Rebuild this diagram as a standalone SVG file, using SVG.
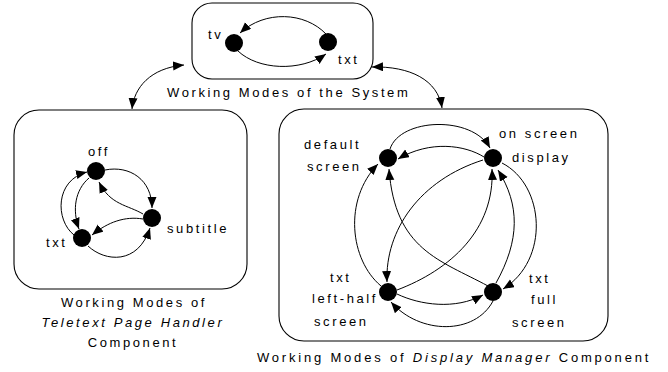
<svg xmlns="http://www.w3.org/2000/svg" width="668" height="372" viewBox="0 0 668 372">
  <defs>
    <marker id="arrow" markerUnits="userSpaceOnUse" markerWidth="12" markerHeight="10" refX="11" refY="4.5" orient="auto-start-reverse">
      <path d="M0,0 L11,4.5 L0,9 z" fill="#000"/>
    </marker>
    <style>
      .box { fill: #fff; stroke: #000; stroke-width: 1.1; }
      .node { fill: #000; }
      .edge { fill: none; stroke: #000; stroke-width: 1; marker-end: url(#arrow); }
      .both { marker-start: url(#arrow); }
      text { font-family: "Liberation Sans", Arial, sans-serif; font-size: 13px; letter-spacing: 2.6px; fill: #000; }
      .it { font-style: italic; }
      .mid { text-anchor: middle; }
      .wide { letter-spacing: 2.8px; }
    </style>
  </defs>

  <rect width="668" height="372" fill="#fff"/>

  <!-- System working modes -->
  <g id="system">
    <rect class="box" x="192" y="3" width="181" height="76" rx="20"/>
    <g id="sys-tv">
      <circle class="node" cx="234" cy="43" r="9"/>
      <text x="208" y="39">tv</text>
    </g>
    <g id="sys-txt">
      <circle class="node" cx="328" cy="42" r="9"/>
      <text x="338" y="64">txt</text>
    </g>
    <text x="167" y="97">Working Modes of the System</text>
  </g>

  <!-- Teletext Page Handler working modes -->
  <g id="tph">
    <rect class="box" x="14" y="110" width="233" height="179" rx="25"/>
    <g id="tph-off">
      <circle class="node" cx="96" cy="171" r="9"/>
      <text x="88" y="156">off</text>
    </g>
    <g id="tph-subtitle">
      <circle class="node" cx="152" cy="218" r="9"/>
      <text x="167" y="233">subtitle</text>
    </g>
    <g id="tph-txt">
      <circle class="node" cx="82" cy="238" r="9"/>
      <text x="46" y="247">txt</text>
    </g>
    <text class="mid" x="134" y="307">Working Modes of</text>
    <text class="mid it" x="133" y="327">Teletext Page Handler</text>
    <text class="mid" x="133" y="347">Component</text>
  </g>

  <!-- Display Manager working modes -->
  <g id="dm">
    <rect class="box" x="279" y="109" width="329" height="232" rx="25"/>
    <g id="dm-default">
      <circle class="node" cx="388" cy="158" r="9"/>
      <text x="304" y="149">default</text>
      <text x="307" y="171">screen</text>
    </g>
    <g id="dm-osd">
      <circle class="node" cx="493" cy="158" r="9"/>
      <text x="499" y="138">on screen</text>
      <text x="512" y="162">display</text>
    </g>
    <g id="dm-left-half">
      <circle class="node" cx="388" cy="292" r="9"/>
      <text x="330" y="282">txt</text>
      <text x="312" y="303">left-half</text>
      <text x="314" y="326">screen</text>
    </g>
    <g id="dm-full">
      <circle class="node" cx="493" cy="292" r="9"/>
      <text x="529" y="283">txt</text>
      <text x="531" y="304">full</text>
      <text x="512" y="327">screen</text>
    </g>
    <text class="wide" x="257" y="362">Working Modes of <tspan class="it">Display Manager</tspan> Component</text>
  </g>

  <!-- transitions and links -->
  <g id="connectors">
    <!-- system level -->
    <path class="edge" d="M326 34 C305 12, 265 10, 240 33"/>
    <path class="edge" d="M238 51 C258 70, 300 72, 326 54"/>
    <path class="edge both" d="M132 109 C134 88, 150 68, 184 65"/>
    <path class="edge both" d="M372 67 C410 66, 438 80, 442 108"/>

    <!-- teletext page handler -->
    <path class="edge" d="M105 170 C130 165, 152 180, 152 208"/>
    <path class="edge" d="M143 214 C128 205, 110 205, 99 182"/>
    <path class="edge" d="M143 219 C125 216, 108 222, 92 235"/>
    <path class="edge" d="M88 246 C105 262, 138 265, 150 228"/>
    <path class="edge" d="M89 178 C75 190, 72 210, 79 229"/>
    <path class="edge" d="M74 235 C55 220, 55 180, 87 172"/>

    <!-- display manager -->
    <path class="edge" d="M390 149 C400 118, 472 115, 490 148"/>
    <path class="edge" d="M484 157 C465 145, 430 140, 398 159"/>
    <path class="edge" d="M381 286 C350 260, 343 200, 378 164"/>
    <path class="edge" d="M488 286 C440 260, 395 250, 389 169"/>
    <path class="edge" d="M483 160 C420 180, 385 230, 387 282"/>
    <path class="edge" d="M397 290 C450 270, 495 230, 492 169"/>
    <path class="edge" d="M496 283 C520 240, 520 205, 498 170"/>
    <path class="edge" d="M502 163 C545 185, 550 260, 503 289"/>
    <path class="edge" d="M397 294 C420 305, 455 310, 483 295"/>
    <path class="edge" d="M493 301 C475 335, 420 335, 391 302"/>
  </g>
</svg>
